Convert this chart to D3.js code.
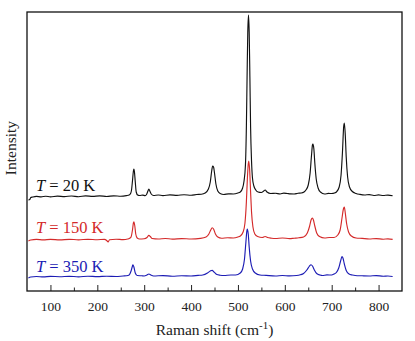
<!DOCTYPE html>
<html>
<head>
<meta charset="utf-8">
<script src="https://cdn.jsdelivr.net/npm/d3@7"></script>
<style>
  body { margin: 0; background: #fff; }
  text { font-family: "Liberation Serif", "DejaVu Serif", serif; }
</style>
</head>
<body>
<svg width="415" height="341"></svg>
<script>
const xTicks = [100, 200, 300, 400, 500, 600, 700, 800];
const labels = ['20 K', '150 K', '350 K'];
const colors = ['#111111', '#d42a2a', '#1c1cb4'];
const offsets = [94, 51, 14];

// spectra, [Raman shift, intensity above own baseline]
const spec20 = [
  [53, -3], [56, -2.5], [58, -0.5], [62, 0], [70, 0.6], [80, 0.2], [90, 0.8], [100, 0.1], [115, 0.9], [130, 0.4],
  [145, 1.0], [160, 0.3], [175, 1.1], [190, 0.6], [205, 1.2], [220, 0.5], [235, 1.2], [250, 0.8], [262, 1.4],
  [268, 2], [271, 3.5], [273, 7], [275, 16], [277, 26], [278, 28], [279, 26], [281, 15], [283, 5], [286, 2],
  [290, 1.5], [297, 1.9], [302, 1.4], [305, 2.5], [308, 6], [310, 8], [312, 6], [315, 3], [320, 1.5], [330, 2],
  [340, 1.4], [355, 2.1], [370, 1.6], [385, 2.3], [400, 1.8], [412, 2.5], [422, 2.8], [430, 4], [437, 8],
  [441, 15], [444, 26], [446, 31], [448, 30], [450, 24], [453, 13], [457, 6], [462, 3.5], [470, 2.5], [480, 3.2],
  [490, 3], [500, 4], [505, 5], [510, 9], [513, 16], [516, 32], [518, 70], [519.5, 120], [521, 165], [522.5, 182],
  [524, 165], [525.5, 120], [527, 70], [529, 36], [531, 19], [534, 11], [538, 7], [543, 5], [550, 4.5], [555, 6],
  [558, 7], [562, 5], [570, 3.5], [580, 3.8], [590, 3], [598, 3.9], [605, 3.5], [612, 3.1], [620, 3], [628, 3.8],
  [635, 4], [641, 5], [645, 7], [650, 12], [654, 24], [657, 42], [659, 52], [660, 53], [662, 48], [664, 34],
  [667, 18], [671, 9], [676, 5], [685, 3], [693, 3.6], [700, 3.5], [706, 4], [710, 5], [716, 10], [720, 22],
  [723, 45], [725.5, 70], [727, 74], [729, 62], [731, 40], [734, 20], [738, 10], [744, 5.5], [752, 3.5],
  [760, 2.6], [770, 2], [780, 2.4], [790, 1.5], [800, 2.1], [810, 1.5], [820, 1.9], [830, 1.2]
];

const spec150 = [
  [53, -1], [58, 0], [70, 0.6], [85, 0.1], [100, 0.6], [120, 0.1], [140, 0.7], [160, 0.2], [180, 0.7],
  [200, 0.3], [215, 0.6], [220, -0.5], [223, -2], [226, 0.3], [240, 0.8], [255, 0.4], [265, 1], [270, 2],
  [272, 3], [275, 10], [277, 17], [278, 18.3], [280, 14], [282, 6], [285, 2], [290, 1], [300, 1.2], [306, 2.5],
  [310, 4.7], [313, 3.5], [317, 1.5], [330, 1], [345, 1.5], [360, 0.9], [380, 1.4], [400, 1], [420, 1.6],
  [432, 3], [438, 6], [442, 10], [445, 12.3], [448, 11], [452, 6], [457, 3], [465, 1.8], [478, 2.3], [490, 2],
  [500, 3], [505, 4], [511, 8], [515, 17], [518, 38], [520, 60], [522, 76], [523, 79], [525, 70], [527, 48],
  [529, 28], [532, 13], [536, 6], [542, 3.5], [552, 2.5], [558, 3.5], [563, 2.5], [572, 1.8], [580, 1.5],
  [595, 2], [610, 1.4], [620, 1.8], [630, 2.2], [640, 3], [648, 7], [653, 14], [656, 20], [659, 22], [661, 20],
  [664, 14], [668, 7], [674, 3.5], [685, 2], [695, 2.5], [705, 2.5], [713, 5], [718, 10], [722, 22], [725, 31],
  [727, 33], [729, 27], [732, 16], [736, 8], [742, 4], [752, 2], [765, 1.6], [780, 1], [795, 1.4], [810, 0.8],
  [820, 1.1], [830, 0.6]
];

const spec350 = [
  [53, -1], [58, 0], [70, 0.5], [85, 0.1], [100, 0.6], [120, 0.3], [140, 0.7], [160, 0.2], [180, 0.8],
  [200, 0.4], [220, 0.8], [240, 0.5], [255, 1], [262, 1.2], [268, 2], [272, 6], [275, 11], [276, 12.3],
  [278, 10], [281, 4], [285, 1.5], [295, 1.2], [300, 1], [306, 2], [310, 3], [314, 2], [320, 1], [340, 1.4],
  [360, 0.8], [380, 1.3], [400, 1], [415, 1.6], [425, 2], [435, 4], [441, 6], [445, 6.7], [449, 5], [455, 2.5],
  [462, 1.8], [470, 1.5], [485, 2], [495, 2], [505, 4], [510, 8], [514, 18], [517, 35], [519, 46], [520, 48],
  [522, 43], [524, 30], [527, 16], [531, 8], [537, 4], [547, 2], [560, 1.6], [580, 1], [595, 1.5], [610, 1.1],
  [625, 1.5], [633, 2.2], [640, 3.5], [647, 7], [652, 10.5], [656, 12.3], [659, 11], [663, 7], [668, 3.5],
  [675, 2], [680, 1.5], [690, 2.1], [700, 2], [705, 3], [710, 4.5], [715, 9], [719, 16], [722, 20.5], [724, 19],
  [727, 13], [731, 6.5], [737, 3], [744, 2], [750, 1.5], [765, 1.2], [780, 1], [795, 1.4], [810, 0.8],
  [820, 1], [830, 0.5]
];

const spectra = [spec20, spec150, spec350];

const svg = d3.select('svg');
const margin = { top: 12, right: 13, bottom: 50, left: 27 };
const width = +svg.attr('width');
const height = +svg.attr('height');
const innerWidth = width - margin.left - margin.right;
const innerHeight = height - margin.top - margin.bottom;

const xScale = d3.scaleLinear().domain([50, 850]).range([0, innerWidth]);
const yScale = d3.scaleLinear().domain([0, 279]).range([innerHeight, 0]);

const g = svg.append('g')
  .attr('transform', `translate(${margin.left},${margin.top})`);

// spectra
const line = d3.line()
  .x(d => xScale(d[0]))
  .y(d => yScale(d[1]))
  .curve(d3.curveMonotoneX);

spectra.forEach((s, i) => {
  g.append('path')
    .datum(s.map(d => [d[0], d[1] + offsets[i]]))
    .attr('d', line)
    .attr('fill', 'none')
    .attr('stroke', colors[i])
    .attr('stroke-width', 1.15);
});

// inward ticks
const xAxis = d3.axisBottom(xScale)
  .tickValues(xTicks)
  .tickSize(-6)
  .tickPadding(10)
  .tickFormat(d3.format('d'));

const xAxisG = g.append('g')
  .attr('transform', `translate(0,${innerHeight})`)
  .call(xAxis);
xAxisG.select('.domain').remove();
xAxisG.selectAll('.tick line').attr('stroke', '#222').attr('stroke-width', 1);
xAxisG.selectAll('text')
  .attr('fill', '#222')
  .style('font-size', '13.5px')
  .style('font-family', '"Liberation Serif", serif');

const minorG = g.append('g')
  .attr('transform', `translate(0,${innerHeight})`)
  .call(d3.axisBottom(xScale).tickValues(d3.range(150, 850, 100)).tickSize(-3.5).tickFormat(''));
minorG.select('.domain').remove();
minorG.selectAll('.tick line').attr('stroke', '#222').attr('stroke-width', 1);

// frame
g.append('rect')
  .attr('width', innerWidth)
  .attr('height', innerHeight)
  .attr('fill', 'none')
  .attr('stroke', '#111')
  .attr('stroke-width', 1.3);

// series labels
const labelY = [191, 233, 272];
labels.forEach((t, i) => {
  const txt = svg.append('text')
    .attr('x', 36)
    .attr('y', labelY[i])
    .attr('fill', colors[i])
    .style('font-size', '16.5px');
  txt.append('tspan').style('font-style', 'italic').text('T');
  txt.append('tspan').text(' = ' + t);
});

// axis titles
const xt = svg.append('text')
  .attr('x', margin.left + innerWidth / 2)
  .attr('y', 335)
  .attr('text-anchor', 'middle')
  .attr('fill', '#222')
  .style('font-size', '15.5px');
xt.append('tspan').text('Raman shift (cm');
xt.append('tspan').attr('dy', -6).style('font-size', '11px').text('-1');
xt.append('tspan').attr('dy', 6).text(')');

svg.append('text')
  .attr('transform', `translate(16,148) rotate(-90)`)
  .attr('text-anchor', 'middle')
  .attr('fill', '#222')
  .style('font-size', '15.5px')
  .text('Intensity');
</script>
</body>
</html>
